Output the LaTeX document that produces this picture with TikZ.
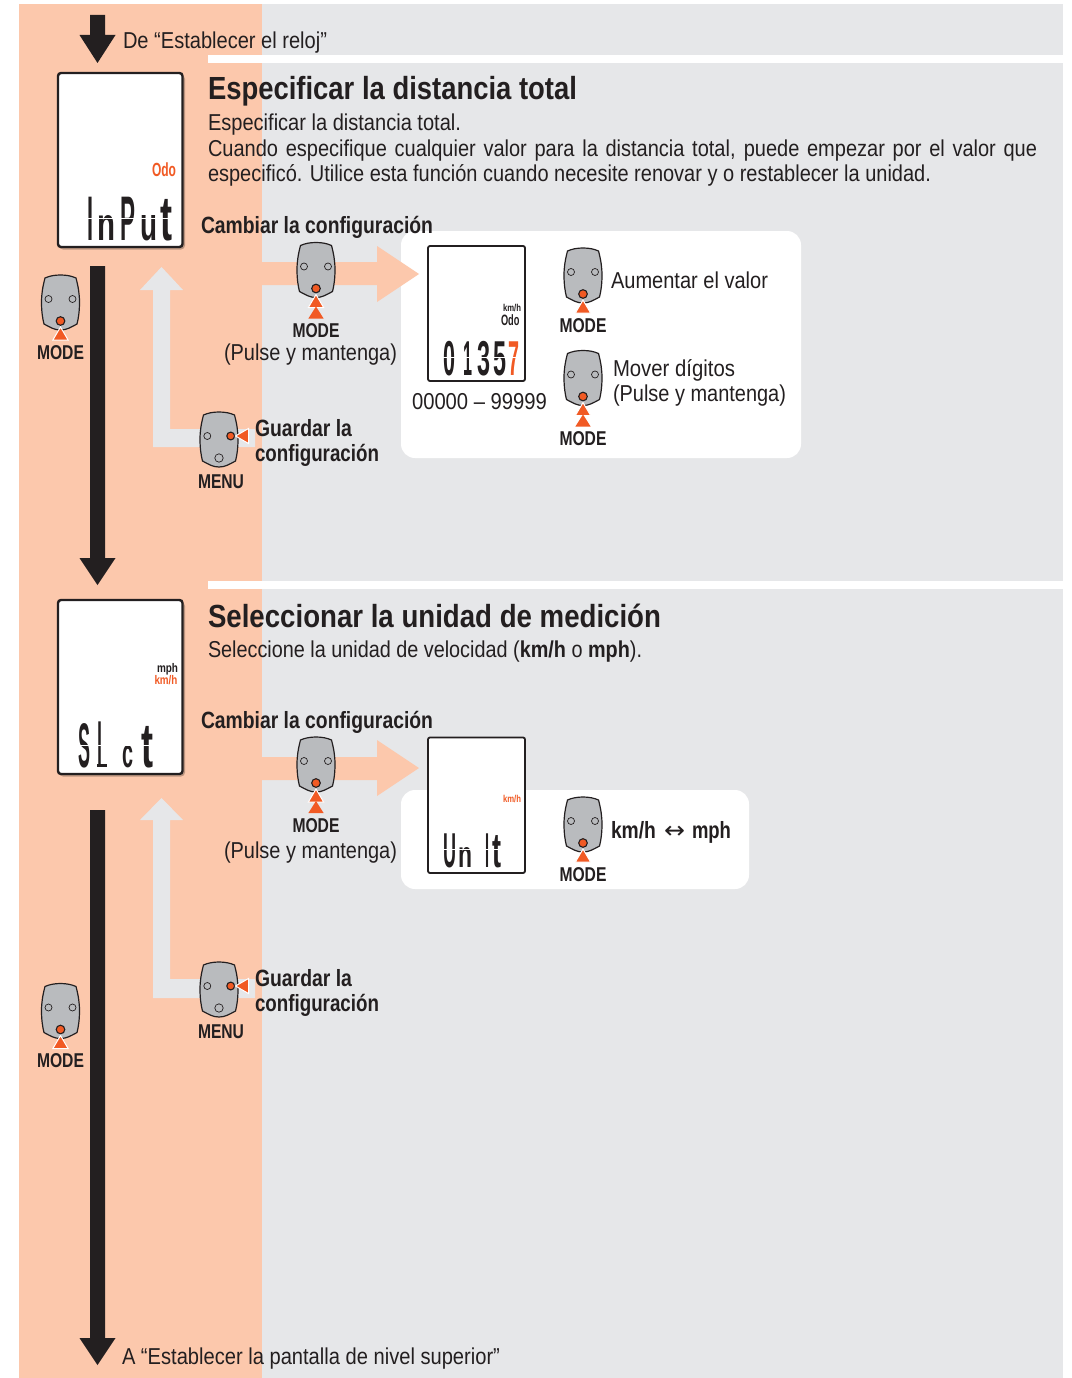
\documentclass[tikz,border=0pt]{standalone}
\usepackage{fontspec}
\usepackage{graphicx}
\setmainfont{Liberation Sans}
\newfontfamily\djv{DejaVu Sans}
\definecolor{peach}{HTML}{FCC8AC}
\definecolor{pale}{HTML}{E6E7E9}
\definecolor{ink}{HTML}{231F20}
\definecolor{org}{HTML}{F15A24}
\definecolor{rgray}{HTML}{B9BBBE}
\newcommand\fitw[2]{\resizebox{#1pt}{\height}{#2}}
\newcommand\lcdg[3]{\hspace*{#1pt}\resizebox{#2pt}{\height}{#3}}
\newcommand\lcdh[4]{\hspace*{#1pt}\resizebox{#2pt}{#3pt}{#4}}
\newcommand\arrowdown[3]{\fill[ink] (90,#1) -- (105,#1) -- (105,#2) -- (115.5,#2) -- (97.5,#3) -- (79.5,#2) -- (90,#2) -- cycle;}
\tikzset{
  x=1pt,y=-1pt,
  tx/.style={anchor=base west,inner sep=0pt,outer sep=0pt,text=ink},
  body/.style={tx,font=\fontsize{23}{26}\selectfont},
  head/.style={tx,font=\bfseries\fontsize{32}{34}\selectfont},
  sub/.style={tx,font=\bfseries\fontsize{23.5}{26}\selectfont},
  key/.style={anchor=base,inner sep=0pt,outer sep=0pt,text=ink,font=\bfseries\fontsize{20}{22}\selectfont},
  lcd/.style={anchor=base west,inner sep=0pt,outer sep=0pt,text=ink},
  cut/.style={draw=white,line width=.9pt},
  pad/.pic={
    \draw[fill=rgray,draw=ink,line width=1.2pt] (0,-27.5) .. controls (-6,-27.5) and (-11,-26.5) .. (-15.5,-24.5)
      .. controls (-18,-15) and (-19,-8) .. (-19,0) .. controls (-19,8) and (-18,16) .. (-16.5,21.5)
      .. controls (-10,25) and (-6,27.5) .. (0,27.5) .. controls (6,27.5) and (10,25) .. (16.5,21.5)
      .. controls (18,16) and (19,8) .. (19,0) .. controls (19,-8) and (18,-15) .. (15.5,-24.5)
      .. controls (11,-26.5) and (6,-27.5) .. (0,-27.5) -- cycle;
  },
  hole/.style={fill=rgray,draw=ink,line width=.7pt},
  btn/.style={fill=org,draw=ink,line width=1.1pt},
  mode one/.pic={
    \pic {pad};
    \draw[hole] (-12,-3.5) circle (3.5); \draw[hole] (12,-3.5) circle (3.5);
    \draw[btn] (0,18.5) circle (4.3);
    \draw[fill=org,draw=white,line width=1pt] (0,24.5) -- (7.6,37.5) -- (-7.6,37.5) -- cycle;
  },
  mode two/.pic={
    \pic {mode one};
    \fill[org] (0,36.5) -- (7.6,48.5) -- (-7.6,48.5) -- cycle;
  },
  menu pad/.pic={
    \pic {pad};
    \draw[hole] (-11.7,-3.5) circle (3.5); \draw[btn] (11.7,-3.5) circle (3.9);
    \draw[hole] (0,18.5) circle (4.2);
    \draw[fill=org,draw=white,line width=1pt] (16.5,-3.5) -- (29.5,-11) -- (29.5,4) -- cycle;
  }
}
\begin{document}
\begin{tikzpicture}
\useasboundingbox (0,0) rectangle (1071,1378);
% panels
\fill[white] (0,0) rectangle (1071,1378);
\fill[pale] (262,4) rectangle (1063,1378);
\fill[peach] (19,4) rectangle (262,1378);
\fill[white] (208,55) rectangle (1063,63);
\fill[white] (208,581) rectangle (1063,589);
% white cards
\fill[white,rounded corners=14pt] (401,231) rectangle (801,458);
\fill[white,rounded corners=14pt] (401,790) rectangle (749,889);
% black flow arrows
\arrowdown{15}{35}{63}
\arrowdown{266}{558}{585}
\arrowdown{810}{1338}{1365}
% peach arrows
\fill[peach] (262,262) -- (377,262) -- (377,246) -- (419,274) -- (377,302) -- (377,285) -- (262,285) -- cycle;
\fill[peach] (262,757) -- (377,757) -- (377,740) -- (419,768) -- (377,796) -- (377,780) -- (262,780) -- cycle;
% return arrows
\fill[pale] (255,429) -- (170,429) -- (170,290) -- (183,290) -- (161.5,267) -- (140,290) -- (153,290) -- (153,447) -- (255,447) -- cycle;
\fill[pale] (255,979) -- (170,979) -- (170,820) -- (183,820) -- (161.5,798) -- (140,820) -- (153,820) -- (153,998) -- (255,998) -- cycle;
% large displays
\foreach \t/\b in {73/247,600/774}{
  \fill[black,opacity=.25,rounded corners=4pt] (59,\t+2) rectangle (185,\b+2.5);
  \draw[fill=white,draw=ink,line width=2.4pt,rounded corners=3pt] (58,\t) rectangle (182.5,\b);
}
% small displays
\draw[fill=white,draw=ink,line width=1.8pt,rounded corners=2pt] (428,246) rectangle (525,381);
\draw[fill=white,draw=ink,line width=1.8pt,rounded corners=2pt] (428,737.5) rectangle (525,873);
% LCD read-outs
\node[lcd,font=\bfseries\fontsize{63}{63}\selectfont] (lcdinput) at (87,240) {\lcdg{0}{6}{I}\lcdh{4}{18}{25}{n}\lcdg{5}{15}{P}\lcdh{5}{17}{25}{u}\lcdg{3}{12}{t}};
\draw[cut] (85,218) -- (174,218);
\node[lcd,font=\bfseries\fontsize{63}{63}\selectfont] (lcdslct) at (78,767) {\lcdg{0}{12}{S}\lcdg{7}{5}{l}\lcdh{20}{11}{22}{c}\lcdg{8}{12}{t}};
\fill[ink] (97,763.5) rectangle (107,767);
\draw[cut] (76,745) -- (155,745);
\node[lcd,font=\bfseries\fontsize{49}{49}\selectfont] (lcdnum) at (443,375) {\lcdg{0}{12}{0}\lcdg{8}{9}{1}\lcdg{5}{13}{3}\lcdg{3}{13}{5}\lcdg{2}{11}{\textcolor{org}{7}}};
\draw[cut] (441,357.5) -- (521,357.5);
\node[lcd,font=\bfseries\fontsize{49}{49}\selectfont] (lcdunit) at (443,867) {\lcdg{0}{13}{U}\lcdh{2}{14}{20}{n}\lcdg{13}{4}{I}\lcdg{3}{9}{t}};
\draw[cut] (441,849.5) -- (502,849.5);
% LCD labels
\node[tx,text=org,font=\bfseries\fontsize{19}{20}\selectfont] (odoa) at (152,176) {\fitw{24}{Odo}};
\node[tx,font=\bfseries\fontsize{12.5}{14}\selectfont] (mph) at (157,672) {\fitw{21}{mph}};
\node[tx,text=org,font=\bfseries\fontsize{12.5}{14}\selectfont] (kmha) at (154.5,684.5) {\fitw{23}{km/h}};
\node[tx,font=\bfseries\fontsize{10}{11}\selectfont] (kmhb) at (503,311) {\fitw{18}{km/h}};
\node[tx,font=\bfseries\fontsize{15}{16}\selectfont] (odob) at (501,325.5) {\fitw{18.5}{Odo}};
\node[tx,text=org,font=\bfseries\fontsize{10}{11}\selectfont] (kmhc) at (503,802) {\fitw{18}{km/h}};
% remotes
\pic at (60.5,302.5) {mode one};
\pic at (316,270) {mode two};
\pic at (219,439.5) {menu pad};
\pic at (583,275.5) {mode one};
\pic at (583,378) {mode two};
\pic at (60.5,1011) {mode one};
\pic at (316,764.5) {mode two};
\pic at (219,989.5) {menu pad};
\pic at (583,824.5) {mode one};
% texts, section 1
\node[body] (from) at (123,48.5) {\fitw{204}{De “Establecer el reloj”}};
\node[head] (title1) at (208,100) {\fitw{369}{Especificar la distancia total}};
\node[body] (l1) at (208,131) {\fitw{253}{Especificar la distancia total.}};
\node[body] (l2) at (208,156) {\scalebox{.87}[1]{\makebox[953pt][s]{Cuando especifique cualquier valor para la distancia total, puede empezar por el valor que}}};
\node[body] (l3) at (208,181) {\fitw{723}{especificó. Utilice esta función cuando necesite renovar y o restablecer la unidad.}};
\node[sub] (change1) at (201,233) {\fitw{232}{Cambiar la configuración}};
\node[key] (m1) at (60.5,359) {\fitw{47}{MODE}};
\node[key] (m2) at (316,337.5) {\fitw{47}{MODE}};
\node[body] (hold1) at (224,360) {\fitw{173}{(Pulse y mantenga)}};
\node[sub] (save1) at (255,436) {\fitw{97}{Guardar la}};
\node[sub] (save1b) at (255,461) {\fitw{124}{configuración}};
\node[key] (menu1) at (221,488) {\fitw{46}{MENU}};
\node[body] (range) at (412,409) {\fitw{135}{00000 – 99999}};
\node[body] (inc) at (611,288) {\fitw{157}{Aumentar el valor}};
\node[key] (m3) at (583,332) {\fitw{47}{MODE}};
\node[body] (mov) at (613,376) {\fitw{122}{Mover dígitos}};
\node[body] (hold2) at (613,401.5) {\fitw{173}{(Pulse y mantenga)}};
\node[key] (m4) at (583,445) {\fitw{47}{MODE}};
% texts, section 2
\node[head] (title2) at (208,627) {\fitw{453}{Seleccionar la unidad de medición}};
\node[body] (l4) at (208,657) {\fitw{434}{Seleccione la unidad de velocidad (\textbf{km/h} o \textbf{mph}).}};
\node[sub] (change2) at (201,728) {\fitw{232}{Cambiar la configuración}};
\node[key] (m5) at (316,832) {\fitw{47}{MODE}};
\node[body] (hold3) at (224,858) {\fitw{173}{(Pulse y mantenga)}};
\node[sub] (unit) at (611,838) {\fitw{45}{km/h}\hspace*{8pt}\fitw{21}{\djv\mdseries ↔}\hspace*{7pt}\fitw{39}{mph}};
\node[key] (m6) at (583,881) {\fitw{47}{MODE}};
\node[sub] (save2) at (255,986) {\fitw{97}{Guardar la}};
\node[sub] (save2b) at (255,1011) {\fitw{124}{configuración}};
\node[key] (menu2) at (221,1038) {\fitw{46}{MENU}};
\node[key] (m7) at (60.5,1067) {\fitw{47}{MODE}};
\node[body] (to) at (122,1364) {\fitw{378}{A “Establecer la pantalla de nivel superior”}};
\end{tikzpicture}
\end{document}
